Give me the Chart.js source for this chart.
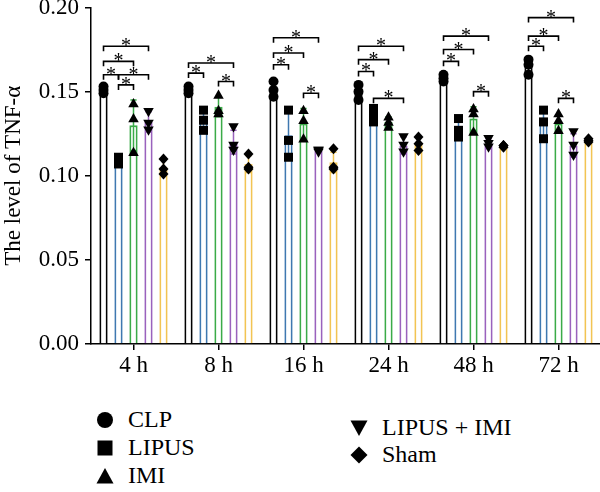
<!DOCTYPE html>
<html>
<head>
<meta charset="utf-8">
<script src="https://cdn.jsdelivr.net/npm/chart.js@4"></script>
<style>
  html, body { margin: 0; padding: 0; background: #fff; overflow: hidden; }
  #wrap { position: relative; width: 600px; height: 492px; overflow: hidden; }
  #chart { position: absolute; left: 0; top: 0; }
  .leg { position: absolute; font: 24px "Liberation Serif", serif; color: #000; display: flex; align-items: center; white-space: nowrap; }
  .leg svg { width: 18px; height: 18px; margin-right: 14px; }
</style>
</head>
<body>
<div id="wrap">
  <canvas id="chart" width="602" height="380"></canvas>
  <div class="leg" style="left:96px; top:406px;"><svg viewBox="0 0 18 18"><circle cx="9" cy="9" r="8"/></svg>CLP</div>
  <div class="leg" style="left:96px; top:434px;"><svg viewBox="0 0 18 18"><rect x="1.5" y="1.5" width="15" height="15"/></svg>LIPUS</div>
  <div class="leg" style="left:96px; top:462px;"><svg viewBox="0 0 18 18"><polygon points="9,1 17.5,16.5 0.5,16.5"/></svg>IMI</div>
  <div class="leg" style="left:350px; top:414px;"><svg viewBox="0 0 18 18"><polygon points="0.5,1.5 17.5,1.5 9,17"/></svg>LIPUS + IMI</div>
  <div class="leg" style="left:350px; top:441px;"><svg viewBox="0 0 18 18"><polygon points="9,0.5 17.5,9 9,17.5 0.5,9"/></svg>Sham</div>
</div>
<script>
// time points on the x axis
const timePoints = ["4 h", "8 h", "16 h", "24 h", "48 h", "72 h"];
const yTicks = [0, 0.05, 0.10, 0.15, 0.20];

// group means (bar heights)
const clpMean   = [0.151, 0.151, 0.151, 0.149, 0.158, 0.165];
const lipusMean = [0.109, 0.133, 0.124, 0.136, 0.128, 0.131];
const imiMean   = [0.130, 0.141, 0.131, 0.132, 0.134, 0.131];
const comboMean = [0.132, 0.120, 0.115, 0.118, 0.119, 0.118];
const shamMean  = [0.105, 0.107, 0.108, 0.119, 0.118, 0.121];

// error bars (SD)
const clpSd   = [0.002, 0.002, 0.004, 0.004, 0.002, 0.004];
const lipusSd = [0.002, 0.006, 0.014, 0.004, 0.006, 0.009];
const imiSd   = [0.015, 0.006, 0.009, 0.003, 0.007, 0.005];
const comboSd = [0.006, 0.007, 0.001, 0.005, 0.003, 0.007];
const shamSd  = [0.005, 0.005, 0.006, 0.004, 0.001, 0.001];

// individual samples, 3 per bar
const clpPts = [[0.153, 0.151, 0.149], [0.153, 0.151, 0.149], [0.156, 0.151, 0.147],
                [0.154, 0.150, 0.145], [0.160, 0.158, 0.156], [0.169, 0.166, 0.160]];
const lipusPts = [[0.111, 0.109, 0.107], [0.139, 0.133, 0.127], [0.139, 0.121, 0.111],
                  [0.140, 0.136, 0.132], [0.134, 0.127, 0.123], [0.139, 0.132, 0.122]];
const imiPts = [[0.143, 0.134, 0.114], [0.148, 0.139, 0.137], [0.139, 0.133, 0.122],
                [0.135, 0.132, 0.129], [0.140, 0.137, 0.126], [0.137, 0.133, 0.127]];
const comboPts = [[0.138, 0.131, 0.127], [0.129, 0.118, 0.115], [0.115, 0.115, 0.114],
                  [0.123, 0.118, 0.114], [0.122, 0.119, 0.117], [0.126, 0.118, 0.112]];
const shamPts = [[0.110, 0.104, 0.101], [0.113, 0.105, 0.104], [0.116, 0.105, 0.104],
                 [0.123, 0.119, 0.115], [0.118, 0.118, 0.117], [0.122, 0.121, 0.120]];

// significance brackets: [time index, from series, to series, y value]
const sigPairs = [
    [0, 0, 3, 0.177], [0, 0, 2, 0.168], [0, 0, 1, 0.160], [0, 1, 3, 0.160], [0, 1, 2, 0.154],
    [1, 0, 3, 0.167], [1, 0, 1, 0.161], [1, 2, 3, 0.156],
    [2, 0, 3, 0.182], [2, 0, 2, 0.173], [2, 0, 1, 0.166], [2, 2, 3, 0.149],
    [3, 0, 3, 0.177], [3, 0, 2, 0.169], [3, 0, 1, 0.162], [3, 1, 3, 0.146],
    [4, 0, 3, 0.183], [4, 0, 2, 0.175], [4, 0, 1, 0.168], [4, 2, 3, 0.150],
    [5, 0, 3, 0.194], [5, 0, 2, 0.183], [5, 0, 1, 0.177], [5, 2, 3, 0.146]
];

const FONT = "Liberation Serif";

function drawMarker(ctx, shape, x, y, r) {
    ctx.beginPath();
    if (shape === "circle") {
        ctx.arc(x, y, r, 0, Math.PI * 2);
    } else if (shape === "square") {
        ctx.rect(x - r * 0.9, y - r * 0.9, r * 1.8, r * 1.8);
    } else if (shape === "up") {
        ctx.moveTo(x, y - r * 1.1);
        ctx.lineTo(x + r * 1.05, y + r * 0.75);
        ctx.lineTo(x - r * 1.05, y + r * 0.75);
    } else if (shape === "down") {
        ctx.moveTo(x, y + r * 1.1);
        ctx.lineTo(x + r * 1.05, y - r * 0.75);
        ctx.lineTo(x - r * 1.05, y - r * 0.75);
    } else {
        ctx.moveTo(x, y - r * 1.1);
        ctx.lineTo(x + r, y);
        ctx.lineTo(x, y + r * 1.1);
        ctx.lineTo(x - r, y);
    }
    ctx.closePath();
    ctx.fill();
}

/* ==========================
   error bars, dots, brackets
========================== */
const overlayPlugin = {
    id: "overlay",
    afterDatasetsDraw(chart) {
        const ctx = chart.ctx;
        const y = chart.scales.y;
        ctx.save();
        chart.data.datasets.forEach((ds, di) => {
            const meta = chart.getDatasetMeta(di);
            meta.data.forEach((bar, i) => {
                const m = ds.data[i], s = ds.sd[i];
                const yt = y.getPixelForValue(m + s);
                const yb = y.getPixelForValue(m - s);
                const half = bar.width / 2 - 1;
                ctx.strokeStyle = ds.borderColor;
                ctx.lineWidth = 1.5;
                ctx.beginPath();
                ctx.moveTo(bar.x, yt); ctx.lineTo(bar.x, yb);
                ctx.moveTo(bar.x - half, yt); ctx.lineTo(bar.x + half, yt);
                ctx.moveTo(bar.x - half, yb); ctx.lineTo(bar.x + half, yb);
                ctx.stroke();
            });
        });
        ctx.fillStyle = "#000";
        chart.data.datasets.forEach((ds, di) => {
            const meta = chart.getDatasetMeta(di);
            meta.data.forEach((bar, i) => {
                ds.pts[i].forEach(v => drawMarker(ctx, ds.marker, bar.x, y.getPixelForValue(v), 5));
            });
        });

        ctx.strokeStyle = "#000";
        ctx.lineWidth = 1.6;
        ctx.font = "20px " + FONT;
        ctx.textAlign = "center";
        ctx.textBaseline = "alphabetic";
        sigPairs.forEach(([g, a, b, v]) => {
            const x1 = chart.getDatasetMeta(a).data[g].x;
            const x2 = chart.getDatasetMeta(b).data[g].x;
            const yy = y.getPixelForValue(v);
            ctx.beginPath();
            ctx.moveTo(x1, yy + 5); ctx.lineTo(x1, yy);
            ctx.lineTo(x2, yy); ctx.lineTo(x2, yy + 5);
            ctx.stroke();
            ctx.fillText("*", (x1 + x2) / 2, yy + 6);
        });
        ctx.restore();
    }
};

function makeSet(label, data, sd, pts, color, marker) {
    return {
        label, data, sd, pts, marker,
        backgroundColor: "#ffffff",
        borderColor: color,
        borderWidth: 2,
        barPercentage: 0.55,
        categoryPercentage: 0.882
    };
}

new Chart(document.getElementById("chart").getContext("2d"), {
    type: "bar",
    data: {
        labels: timePoints,
        datasets: [
            makeSet("CLP", clpMean, clpSd, clpPts, "#000000", "circle"),
            makeSet("LIPUS", lipusMean, lipusSd, lipusPts, "#3f78b0", "square"),
            makeSet("IMI", imiMean, imiSd, imiPts, "#3bab48", "up"),
            makeSet("LIPUS + IMI", comboMean, comboSd, comboPts, "#9a62bd", "down"),
            makeSet("Sham", shamMean, shamSd, shamPts, "#f2c453", "diamond")
        ]
    },
    options: {
        responsive: false,
        animation: false,
        layout: { padding: { top: 7.5, right: 1, left: 0, bottom: 0 } },
        plugins: { legend: { display: false }, tooltip: { enabled: false } },
        scales: {
            x: {
                grid: { display: true, drawOnChartArea: false, drawTicks: true, tickLength: 6, offset: false, color: "#000", lineWidth: 1.5 },
                border: { color: "#000", width: 1.5 },
                ticks: { color: "#000", font: { family: FONT, size: 23 }, padding: 2, maxRotation: 0 },
                afterFit: s => { s.height = 36; s.paddingLeft = 0; s.paddingRight = 0; }
            },
            y: {
                min: 0, max: 0.20,
                afterBuildTicks: s => { s.ticks = yTicks.map(v => ({ value: v })); },
                grid: { display: true, drawOnChartArea: false, drawTicks: true, tickLength: 6, color: "#000", lineWidth: 1.5 },
                border: { color: "#000", width: 1.5 },
                ticks: { color: "#000", font: { family: FONT, size: 23 }, padding: 6, callback: v => Number(v).toFixed(2) },
                title: { display: true, text: "The level of TNF-α", color: "#000", font: { family: FONT, size: 23 }, padding: { top: 0, bottom: 0 } },
                afterFit: s => { s.width = 91; s.paddingTop = 0; s.paddingBottom = 0; }
            }
        }
    },
    plugins: [overlayPlugin]
});
</script>
</body>
</html>
